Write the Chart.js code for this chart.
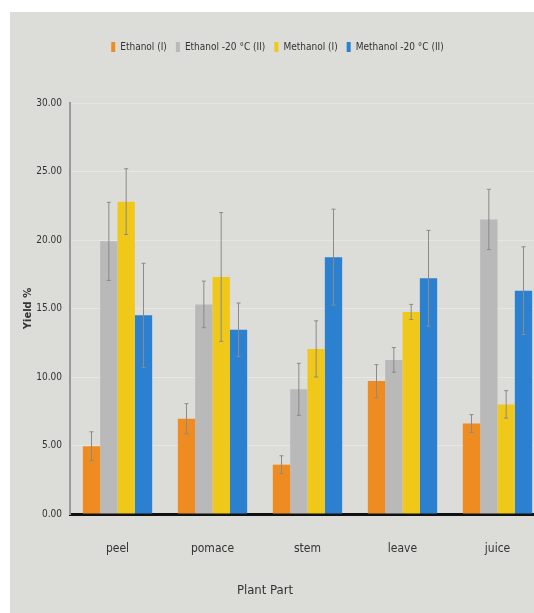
<!DOCTYPE html>
<html>
<head>
<meta charset="utf-8">
<script src="https://cdn.jsdelivr.net/npm/chart.js@4/dist/chart.umd.min.js"></script>
<style>
  html, body { margin: 0; padding: 0; background: #ffffff; }
  #wrap { position: absolute; left: 10px; top: 12px; width: 524px; height: 601px;
          background: #dcdcd8; overflow: hidden; }
  #c { position: absolute; left: 0; top: 0; }
  #xtitle { position: absolute; left: 205px; top: 570px; width: 100px; text-align: center;
            font: 13px "Liberation Sans Narrow", "DejaVu Sans Condensed", sans-serif; color: #333; }
</style>
</head>
<body>
<div id="wrap">
  <canvas id="c" width="535" height="601"></canvas>
  <div id="xtitle">Plant Part</div>
</div>
<script>
// datos
var partes = ['peel', 'pomace', 'stem', 'leave', 'juice'];
var etanol = [4.95, 6.95, 3.6, 9.7, 6.6];
var etanolErr = [1.05, 1.1, 0.65, 1.2, 0.65];
var etanol20 = [19.9, 15.3, 9.1, 11.25, 21.5];
var etanol20Err = [2.85, 1.7, 1.9, 0.9, 2.2];
var metanol = [22.8, 17.3, 12.05, 14.75, 8.0];
var metanolErr = [2.4, 4.7, 2.05, 0.55, 1.0];
var metanol20 = [14.5, 13.45, 18.75, 17.2, 16.3];
var metanol20Err = [3.8, 1.95, 3.5, 3.5, 3.2];
var yTicks = [0, 5, 10, 15, 20, 25, 30];

var fuente = '"Liberation Sans Narrow", "DejaVu Sans Condensed", sans-serif';

// barras de error con la escala del grafico
var barrasError = {
    id: 'barrasError',
    afterDatasetsDraw: function (chart) {
        var ctx = chart.ctx;
        var y = chart.scales.y;
        ctx.save();
        ctx.strokeStyle = '#8a8a8a';
        ctx.lineWidth = 1;
        chart.data.datasets.forEach(function (ds, i) {
            var meta = chart.getDatasetMeta(i);
            meta.data.forEach(function (bar, j) {
                var v = ds.data[j], e = ds.err[j];
                var top = y.getPixelForValue(v + e);
                var bot = y.getPixelForValue(v - e);
                ctx.beginPath();
                ctx.moveTo(bar.x, top); ctx.lineTo(bar.x, bot);
                ctx.moveTo(bar.x - 2, top); ctx.lineTo(bar.x + 2, top);
                ctx.moveTo(bar.x - 2, bot); ctx.lineTo(bar.x + 2, bot);
                ctx.stroke();
            });
        });
        ctx.restore();
    }
};

var espacioLeyenda = {
    id: 'espacioLeyenda',
    beforeInit: function (chart) {
        var fit = chart.legend.fit;
        chart.legend.fit = function () {
            fit.bind(chart.legend)();
            this.height += 41;
        };
    }
};

var ctx = document.getElementById('c').getContext('2d');
var grafica = new Chart(ctx, {
    type: 'bar',
    data: {
        labels: partes,
        datasets: [
            { label: 'Ethanol (I)', data: etanol, err: etanolErr, backgroundColor: '#ee8c22' },
            { label: 'Ethanol -20 °C (II)', data: etanol20, err: etanol20Err, backgroundColor: '#b9b9b9' },
            { label: 'Methanol (I)', data: metanol, err: metanolErr, backgroundColor: '#efc81a' },
            { label: 'Methanol -20 °C (II)', data: metanol20, err: metanol20Err, backgroundColor: '#2b80d0' }
        ]
    },
    options: {
        responsive: false,
        animation: false,
        layout: { padding: { top: 21, right: 0, bottom: 0, left: 0 } },
        datasets: { bar: { barPercentage: 1.0, categoryPercentage: 0.73 } },
        plugins: {
            legend: {
                position: 'top',
                labels: {
                    boxWidth: 4, boxHeight: 10, padding: 9,
                    color: '#333', font: { family: fuente, size: 10 }
                }
            },
            tooltip: { enabled: false }
        },
        scales: {
            x: {
                grid: { display: false },
                border: { color: '#111', width: 3 },
                ticks: { color: '#333', padding: 20, font: { family: fuente, size: 12 } },
                afterFit: function (s) { s.height = 99; }
            },
            y: {
                min: 0, max: 30,
                afterBuildTicks: function (s) { s.ticks = yTicks.map(function (v) { return { value: v }; }); },
                grid: { color: '#e6e6e3', lineWidth: 1, drawTicks: false },
                border: { color: '#9a9a9a', width: 2 },
                ticks: {
                    color: '#333', padding: 8, font: { family: fuente, size: 10 },
                    callback: function (v) { return Number(v).toFixed(2); }
                },
                title: { display: true, text: 'Yield %', color: '#333',
                         font: { family: 'DejaVu Sans', size: 10, weight: 'bold' }, padding: { top: 12, bottom: 0 } },
                afterFit: function (s) { s.width = 60; }
            }
        }
    },
    plugins: [barrasError, espacioLeyenda]
});
</script>
</body>
</html>
